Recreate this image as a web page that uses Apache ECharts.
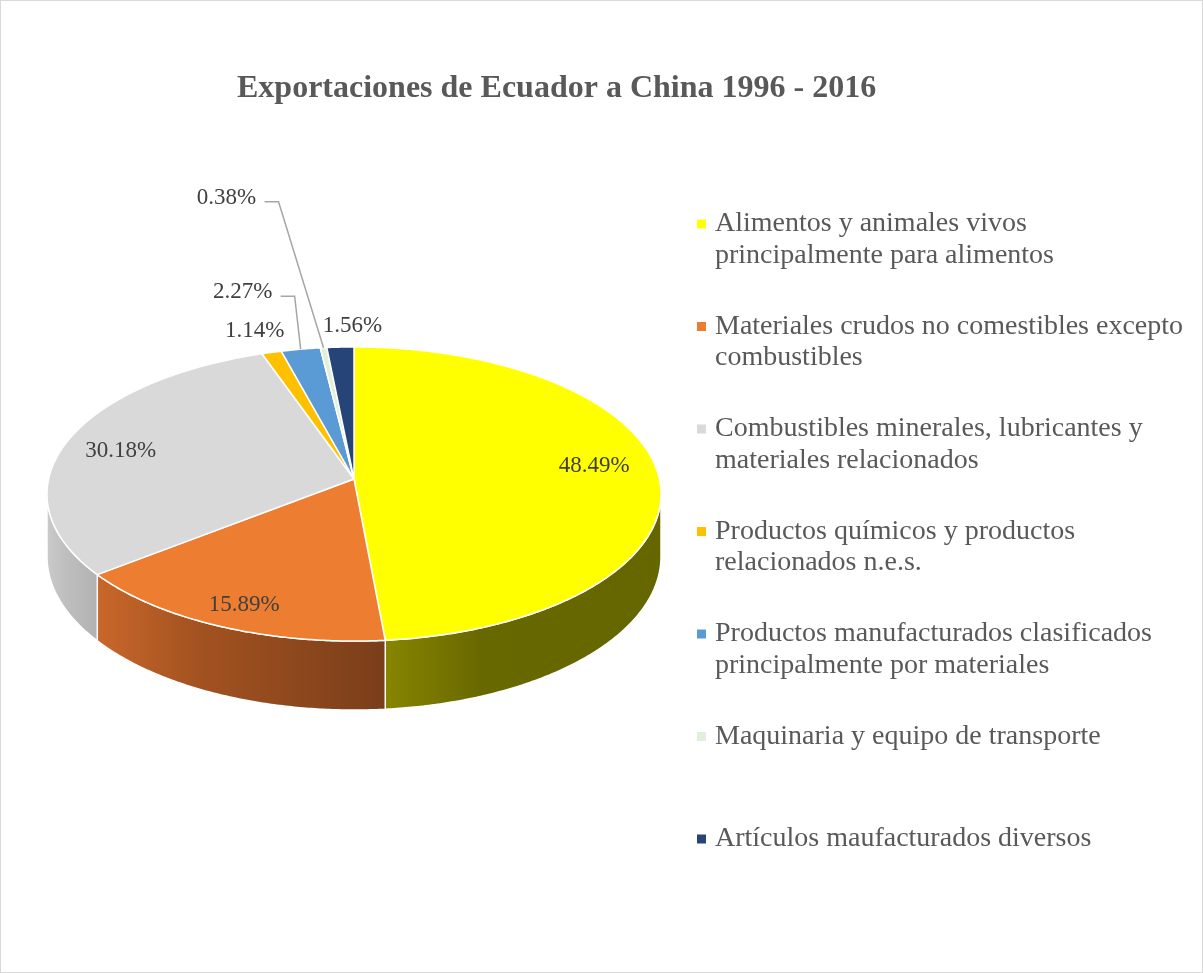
<!DOCTYPE html>
<html>
  <head>
    <meta charset="utf-8">
    <title>Exportaciones de Ecuador a China</title>
    <script src="https://cdn.jsdelivr.net/npm/echarts@6/dist/echarts.min.js"></script>
    <style>
      body { margin: 0; background: #fff; }
      #main { width: 1203px; height: 973px; box-sizing: border-box; border: 1px solid #d9d9d9; }
    </style>
  </head>
  <body>
    <div id="main"></div>
    <script type="text/javascript">
      // datos (% del total exportado 1996 - 2016)
      var categories = [
        'Alimentos y animales vivos principalmente para alimentos',
        'Materiales crudos no comestibles excepto combustibles',
        'Combustibles minerales, lubricantes y materiales relacionados',
        'Productos químicos y productos relacionados n.e.s.',
        'Productos manufacturados clasificados principalmente por materiales',
        'Maquinaria y equipo de transporte',
        'Artículos maufacturados diversos'
      ];
      var legendText = [
        'Alimentos y animales vivos\nprincipalmente para alimentos',
        'Materiales crudos no comestibles excepto\ncombustibles',
        'Combustibles minerales, lubricantes y\nmateriales relacionados',
        'Productos químicos y productos\nrelacionados n.e.s.',
        'Productos manufacturados clasificados\nprincipalmente por materiales',
        'Maquinaria y equipo de transporte',
        'Artículos maufacturados diversos'
      ];
      var shares = [48.49, 15.89, 30.18, 1.14, 2.27, 0.38, 1.56];

      var colors = ['#FFFF00', '#ED7D31', '#D9D9D9', '#FFC000', '#5B9BD5', '#E2EFDA', '#264478'];
      var sideColors = [
        ['#878500', '#686800', '#666600'],
        ['#C9672B', '#A35220', '#7A3E1A'],
        ['#CACACA', '#BFBFBF', '#B2B2B2'],
        ['#A67D00', '#8C6A00', '#806000'],
        ['#3E6E9C', '#355F87', '#2E5378'],
        ['#A2AF9A', '#909C89', '#808B7A'],
        ['#1A3052', '#162947', '#13233D']
      ];

      // pie geometry (screen px) - tilted disc with a bit of perspective
      var CX = 353, CY = 478, RX = 305.4, RY = 145.5, K = 0.102, DEPTH = 62;
      var TS = Math.asin(K) / Math.PI * 180;
      var DEG = Math.PI / 180;
      var FONT = '"Liberation Serif", "Times New Roman", serif';

      // label placement: radius along the mid angle + nudge, leader line or not
      var labelPlace = [
        { r: 0.8, dx: -3, dy: -8 },
        { r: 0.8, dx: -5, dy: 10 },
        { r: 0.8, dx: -4, dy: 4 },
        { r: 1, dx: -17, dy: -21 },
        { r: 1, dx: -58, dy: -57, leader: true },
        { r: 1, dx: -97, dy: -150, leader: true },
        { r: 1, dx: 12, dy: -21 }
      ];
      var legendTop = 223, legendStep = 102.5, legendLine = 31.5;

      var total = shares.reduce(function (a, b) { return a + b; }, 0);

      function proj(r, deg) {
        var s = Math.sin(deg * DEG), c = Math.cos(deg * DEG);
        var den = 1 - K * r * s;
        return [CX + RX * r * c / den, CY + RY * r * s / den];
      }
      function drop(deg) {
        return DEPTH / (1 - K * Math.sin(deg * DEG));
      }
      function startAngle(i) {
        var s = 0;
        for (var j = 0; j < i; j++) s += shares[j];
        return -90 + s / total * 360;
      }
      function arcPoints(a0, a1) {
        var n = Math.max(2, Math.ceil((a1 - a0) / 0.5));
        var pts = [];
        for (var k = 0; k <= n; k++) pts.push(proj(1, a0 + (a1 - a0) * k / n));
        return pts;
      }

      function renderSlice(i) {
        return function (params, api) {
          var value = api.value(0);
          var a0 = startAngle(i);
          var a1 = a0 + value / total * 360;
          var children = [];

          // side wall (only the front part is seen)
          var b0 = Math.max(a0, TS), b1 = Math.min(a1, 180 - TS);
          if (b1 > b0) {
            var top = arcPoints(b0, b1);
            var n = top.length;
            var pts = top.slice();
            var xs = top.map(function (p) { return p[0]; });
            for (var k = n - 1; k >= 0; k--) {
              var ang = b0 + (b1 - b0) * k / (n - 1);
              pts.push([top[k][0], top[k][1] + drop(ang)]);
            }
            var sc = sideColors[i];
            children.push({
              type: 'polygon',
              shape: { points: pts },
              style: {
                fill: {
                  type: 'linear', global: true,
                  x: Math.min.apply(null, xs), y: 0, x2: Math.max.apply(null, xs), y2: 0,
                  colorStops: [{ offset: 0, color: sc[0] }, { offset: 0.35, color: sc[1] }, { offset: 1, color: sc[2] }]
                },
                stroke: '#fff', lineWidth: 1.5, lineJoin: 'round'
              }
            });
          }

          // top face
          var face = [[CX, CY]].concat(arcPoints(a0, a1));
          children.push({
            type: 'polygon',
            shape: { points: face },
            style: { fill: colors[i], stroke: '#fff', lineWidth: 1.5, lineJoin: 'round' }
          });

          // data label
          var mid = (a0 + a1) / 2;
          var lp = labelPlace[i];
          var p = proj(lp.r, mid);
          var lx = p[0] + lp.dx, ly = p[1] + lp.dy;
          children.push({
            type: 'text',
            z2: 100,
            style: {
              text: value.toFixed(2) + '%', x: lx, y: ly,
              align: 'center', verticalAlign: 'middle',
              fontFamily: FONT, fontSize: 23, fill: '#404040'
            }
          });
          if (lp.leader) {
            var edge = proj(1, mid);
            var yl = ly + 4;
            children.push({
              type: 'polyline',
              z2: 100,
              shape: { points: [[lx + 38, yl], [lx + 52, yl], edge] },
              style: { stroke: '#A6A6A6', lineWidth: 1.5, fill: null }
            });
          }
          return { type: 'group', children: children };
        };
      }

      var myChart = echarts.init(document.getElementById('main'));

      var series = categories.map(function (name, i) {
        return {
          type: 'custom',
          name: name,
          coordinateSystem: 'none',
          silent: true,
          animation: false,
          itemStyle: { color: colors[i] },
          data: [[shares[i]]],
          renderItem: renderSlice(i)
        };
      });

      // one legend per entry so the square sits on the first text line
      var legends = categories.map(function (name, i) {
        var twoLines = legendText[i].indexOf('\n') >= 0;
        var y1 = legendTop + legendStep * i;
        var h = twoLines ? 9 + legendLine : 9;
        return {
          data: [name],
          left: 696,
          top: y1 - legendLine / 2,
          padding: 0,
          icon: twoLines ? 'path://M0,0h9v9h-9zM0,' + h + 'h0.01' : 'path://M0,0h9v9h-9z',
          itemWidth: 17,
          itemHeight: h,
          selectedMode: false,
          formatter: function () { return legendText[i]; },
          textStyle: {
            fontFamily: FONT, fontSize: 28, color: '#595959',
            lineHeight: legendLine
          }
        };
      });

      var option = {
        backgroundColor: '#fff',
        title: {
          text: 'Exportaciones de Ecuador a China 1996 - 2016',
          left: 236,
          top: 72,
          padding: 0,
          textStyle: { fontFamily: FONT, fontSize: 32, fontWeight: 'bold', color: '#595959' }
        },
        legend: legends,
        series: series
      };

      myChart.setOption(option);
    </script>
  </body>
</html>
